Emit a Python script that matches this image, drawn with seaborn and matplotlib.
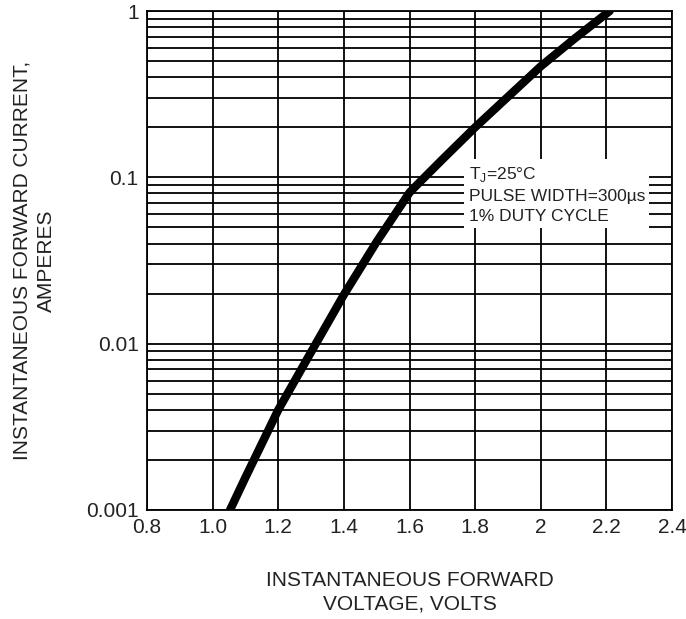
import matplotlib
matplotlib.use("Agg")
import pandas as pd
import seaborn as sns
import matplotlib.pyplot as plt
from matplotlib.ticker import FixedLocator, LogLocator, NullFormatter

# forward voltage (V) vs instantaneous forward current (A)
voltage = [1.053, 1.1, 1.2, 1.3, 1.4, 1.5, 1.6, 1.625, 1.7, 1.8, 1.9, 2.0, 2.1, 2.21]
current = [0.001, 0.00157, 0.004, 0.0089, 0.0197, 0.041, 0.081, 0.091, 0.128, 0.2, 0.305, 0.465, 0.675, 1.0]

x_ticks = [0.8, 1.0, 1.2, 1.4, 1.6, 1.8, 2.0, 2.2, 2.4]
x_tick_labels = ["0.8", "1.0", "1.2", "1.4", "1.6", "1.8", "2", "2.2", "2.4"]
y_ticks = [0.001, 0.01, 0.1, 1]
y_tick_labels = ["0.001", "0.01", "0.1", "1"]

df = pd.DataFrame({"V": voltage, "I": current})

sns.set_style("white")
plt.rcParams["font.family"] = ["Liberation Sans", "DejaVu Sans"]
plt.rcParams["mathtext.fontset"] = "custom"
plt.rcParams["mathtext.rm"] = "Liberation Sans"

fig = plt.figure(figsize=(6.86, 6.19), dpi=100)
ax = fig.add_axes([0.2143, 0.1761, 0.7653, 0.8061])

ax.set_yscale("log")
ax.set_xlim(0.8, 2.4)
ax.set_ylim(0.001, 1)

# grid: vertical every 0.2, horizontal on every log decade subdivision
ax.xaxis.set_major_locator(FixedLocator(x_ticks))
ax.yaxis.set_major_locator(FixedLocator(y_ticks))
ax.yaxis.set_minor_locator(LogLocator(base=10, subs=range(2, 10)))
ax.yaxis.set_minor_formatter(NullFormatter())
ax.grid(True, which="both", axis="y", color="black", lw=1.3)
ax.grid(True, which="major", axis="x", color="black", lw=1.3)
ax.set_axisbelow(True)

sns.lineplot(data=df, x="V", y="I", ax=ax, color="black", lw=6,
             solid_capstyle="round", solid_joinstyle="round", zorder=3)

ax.set_xticks(x_ticks)
ax.set_xticklabels(x_tick_labels)
ax.set_yticks(y_ticks)
ax.set_yticklabels(y_tick_labels)
ax.tick_params(axis="both", which="both", length=0, labelsize=15,
               labelcolor="#222222", pad=6)

for s in ax.spines.values():
    s.set_color("black")
    s.set_linewidth(1.3)

ax.set_xlabel("INSTANTANEOUS FORWARD\nVOLTAGE, VOLTS", fontsize=15,
              color="#222222", labelpad=24, linespacing=1.35)
ax.set_ylabel("INSTANTANEOUS FORWARD CURRENT,\nAMPERES", fontsize=15,
              color="#222222", labelpad=22, linespacing=1.35)

ax.text(1.78, 0.079, "T$_\\mathregular{J}$=25°C\nPULSE WIDTH=300µs\n1% DUTY CYCLE",
        fontsize=12.5, color="#222222", ha="left", va="center", linespacing=1.4,
        bbox=dict(facecolor="white", edgecolor="none", pad=3), zorder=4)

fig.savefig("out.png", dpi=100)
